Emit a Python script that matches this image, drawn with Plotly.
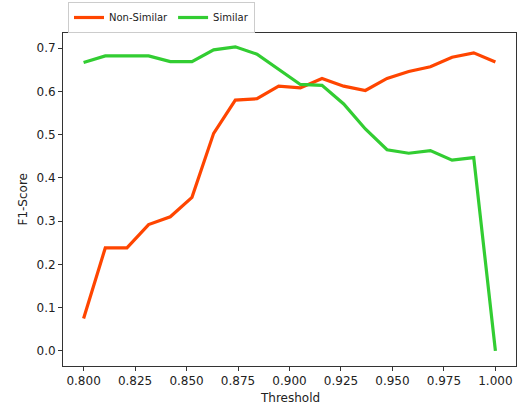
import numpy as np
import plotly.graph_objects as go

thresholds = np.linspace(0.8, 1.0, 20)
non_similar = [0.075, 0.238, 0.238, 0.292, 0.310, 0.355, 0.503, 0.580, 0.583, 0.612,
               0.608, 0.630, 0.612, 0.602, 0.630, 0.646, 0.657, 0.679, 0.689, 0.668]
similar = [0.667, 0.682, 0.682, 0.682, 0.669, 0.669, 0.696, 0.703, 0.686, 0.650,
           0.616, 0.614, 0.571, 0.513, 0.465, 0.457, 0.463, 0.441, 0.447, 0.0]
x_ticks = [0.800, 0.825, 0.850, 0.875, 0.900, 0.925, 0.950, 0.975, 1.000]
y_ticks = [0.0, 0.1, 0.2, 0.3, 0.4, 0.5, 0.6, 0.7]

fig = go.Figure()
fig.add_trace(go.Scatter(x=thresholds, y=non_similar, mode="lines", name="Non-Similar",
                         line=dict(color="#FF4500", width=3.2)))
fig.add_trace(go.Scatter(x=thresholds, y=similar, mode="lines", name="Similar",
                         line=dict(color="#32CD32", width=3.2)))

axis_common = dict(showgrid=False, zeroline=False, showline=True, linecolor="#333333",
                   linewidth=1, mirror=True, ticks="outside", ticklen=4, tickcolor="#333333",
                   automargin=False,
                   tickfont=dict(family="DejaVu Sans", size=12, color="#222222"))

fig.update_layout(
    width=518, height=406,
    margin=dict(l=63, r=2, t=27, b=40),
    paper_bgcolor="white", plot_bgcolor="white",
    font=dict(family="DejaVu Sans", size=12, color="#222222"),
    xaxis=dict(range=[0.79, 1.01], tickvals=x_ticks, tickformat=".3f",
               title=dict(text=""), **axis_common),
    yaxis=dict(range=[-0.035, 0.735], tickvals=y_ticks, tickformat=".1f",
               title=dict(text=""), **axis_common),
    legend=dict(orientation="h", x=0.011, y=1.0, xanchor="left", yanchor="bottom",
                bordercolor="#cccccc", borderwidth=1, bgcolor="white",
                font=dict(size=10), itemwidth=30, tracegroupgap=0),
    showlegend=True,
    annotations=[
        dict(text="Threshold", x=0.5, y=0, xref="paper", yref="paper", xanchor="center",
             yanchor="middle", yshift=-32, showarrow=False, font=dict(size=12)),
        dict(text="F1-Score", x=0, y=0.5, xref="paper", yref="paper", xanchor="center",
             yanchor="middle", xshift=-41, textangle=-90, showarrow=False, font=dict(size=12)),
    ],
)

fig.write_html("out.html", config={"displayModeBar": False},
               post_script="document.body.style.margin='0';")
